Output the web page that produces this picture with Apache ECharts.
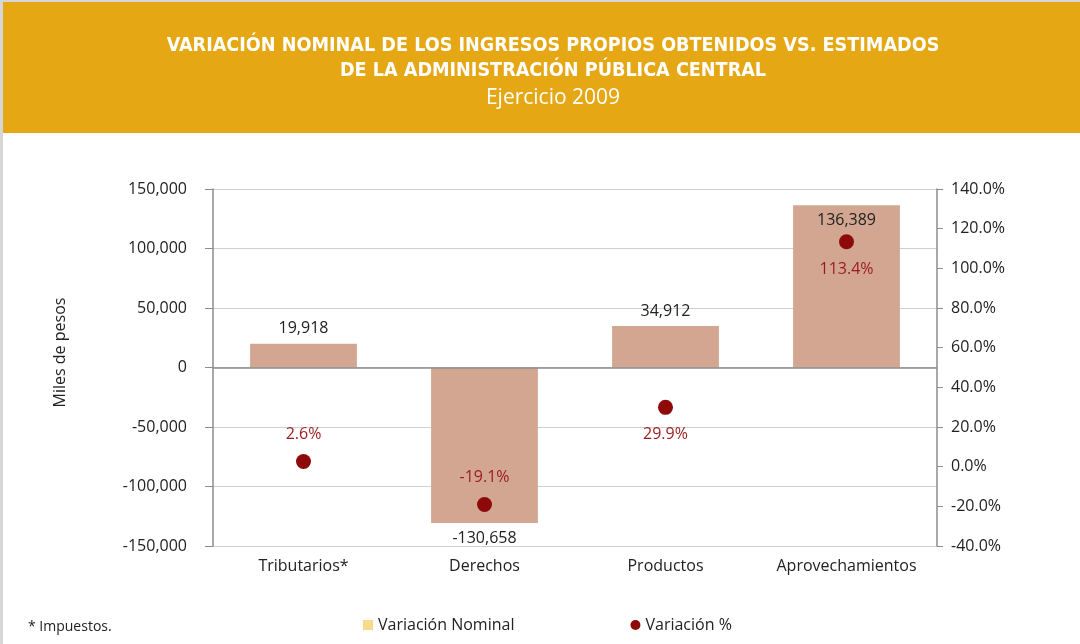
<!DOCTYPE html>
<html>
<head>
<meta charset="utf-8">
<script src="https://cdn.jsdelivr.net/npm/echarts@6/dist/echarts.min.js"></script>
<style>
  html, body { margin: 0; padding: 0; background: #fff; }
  #chart { width: 1080px; height: 644px; }
</style>
</head>
<body>
<div id="chart"></div>
<script>
const categories = ["Tributarios*", "Derechos", "Productos", "Aprovechamientos"];
const nominalValues = [19918, -130658, 34912, 136389];
const nominalLabelPos = ["top", "bottom", "top", "insideTop"];
const percentValues = [2.6, -19.1, 29.9, 113.4];
const percentLabelPos = ["top", "top", "bottom", "bottom"];

const fontBody = "'Open Sans', 'Noto Sans', sans-serif";
const fontTitle = "'Liberation Sans Narrow', 'DejaVu Sans Condensed', 'Liberation Sans', sans-serif";

const fmt = (v) => v.toLocaleString("en-US");

const chart = echarts.init(document.getElementById("chart"));

const option = {
  backgroundColor: "#fff",
  animation: false,
  textStyle: { fontFamily: fontBody },
  graphic: [
    { type: "rect", shape: { x: 0, y: 0, width: 1080, height: 2 }, style: { fill: "#d6d6d6" } },
    { type: "rect", shape: { x: 0, y: 0, width: 3, height: 644 }, style: { fill: "#d6d6d6" } },
    { type: "rect", z: -1, shape: { x: 3, y: 2, width: 1077, height: 131 }, style: { fill: "#E5A713" } },
    {
      type: "text", left: 28, top: 620,
      style: { text: "* Impuestos.", fill: "#222", font: "14px " + fontBody }
    }
  ],
  title: [
    {
      text: "VARIACIÓN NOMINAL DE LOS INGRESOS PROPIOS OBTENIDOS VS. ESTIMADOS\nDE LA ADMINISTRACIÓN PÚBLICA CENTRAL",
      left: 548, top: 28, textAlign: "center",
      textStyle: { color: "#fff", fontFamily: fontTitle, fontWeight: "bold", fontSize: 19.6, lineHeight: 25 }
    },
    {
      text: "Ejercicio 2009",
      left: 548, top: 83, textAlign: "center",
      textStyle: { color: "#fff", fontFamily: fontBody, fontWeight: "normal", fontSize: 21 }
    }
  ],
  legend: {
    left: 358, top: 612,
    itemGap: 116,
    itemWidth: 10, itemHeight: 10,
    textStyle: { color: "#222", fontSize: 16, fontFamily: fontBody },
    data: [
      { name: "Variación Nominal", icon: "rect", itemStyle: { color: "#F8D98E" } },
      { name: "Variación %", icon: "circle", itemStyle: { color: "#8E0A0A" } }
    ]
  },
  grid: { left: 213, right: 143, top: 189, bottom: 98 },
  xAxis: {
    type: "category",
    data: categories,
    axisLine: { show: false },
    axisTick: { show: false },
    axisLabel: { color: "#222", fontSize: 16, margin: 12, interval: 0 }
  },
  yAxis: [
    {
      type: "value",
      min: -150000, max: 150000, interval: 50000,
      name: "Miles de pesos",
      nameLocation: "middle",
      nameGap: 145,
      nameRotate: 90,
      nameTextStyle: { color: "#222", fontSize: 16, padding: [0, 0, 0, 30] },
      axisLine: { show: true, lineStyle: { color: "#8c8c8c", width: 1.5 } },
      axisTick: { show: true, length: 8, lineStyle: { color: "#8c8c8c" } },
      axisLabel: { color: "#222", fontSize: 16, margin: 26, formatter: (v) => fmt(v) },
      splitLine: { show: true, lineStyle: { color: "#d0d0d0", width: 1 } }
    },
    {
      type: "value",
      min: -40, max: 140, interval: 20,
      position: "right",
      axisLine: { show: true, lineStyle: { color: "#8c8c8c", width: 1.5 } },
      axisTick: { show: true, length: 6, lineStyle: { color: "#8c8c8c" } },
      axisLabel: { color: "#222", fontSize: 16, margin: 14, formatter: (v) => v.toFixed(1) + "%" },
      splitLine: { show: false }
    }
  ],
  series: [
    {
      name: "Variación Nominal",
      type: "bar",
      yAxisIndex: 0,
      barWidth: "59%",
      itemStyle: { color: "#D2A691" },
      data: nominalValues.map((v, i) => ({
        value: v,
        label: { position: nominalLabelPos[i] }
      })),
      label: {
        show: true, distance: 7, color: "#222", fontSize: 16,
        formatter: (p) => fmt(p.value)
      },
      markLine: {
        silent: true,
        symbol: "none",
        label: { show: false },
        lineStyle: { color: "#8c8c8c", type: "solid", width: 1.5 },
        data: [{ yAxis: 0 }]
      }
    },
    {
      name: "Variación %",
      type: "scatter",
      yAxisIndex: 1,
      symbolSize: 15,
      itemStyle: { color: "#8E0A0A", opacity: 1 },
      z: 5,
      data: percentValues.map((v, i) => ({
        value: v,
        label: { position: percentLabelPos[i] }
      })),
      label: {
        show: true, distance: 12, color: "#9B1B1B", fontSize: 16,
        formatter: (p) => p.value.toFixed(1) + "%"
      }
    }
  ]
};

chart.setOption(option);
</script>
</body>
</html>
